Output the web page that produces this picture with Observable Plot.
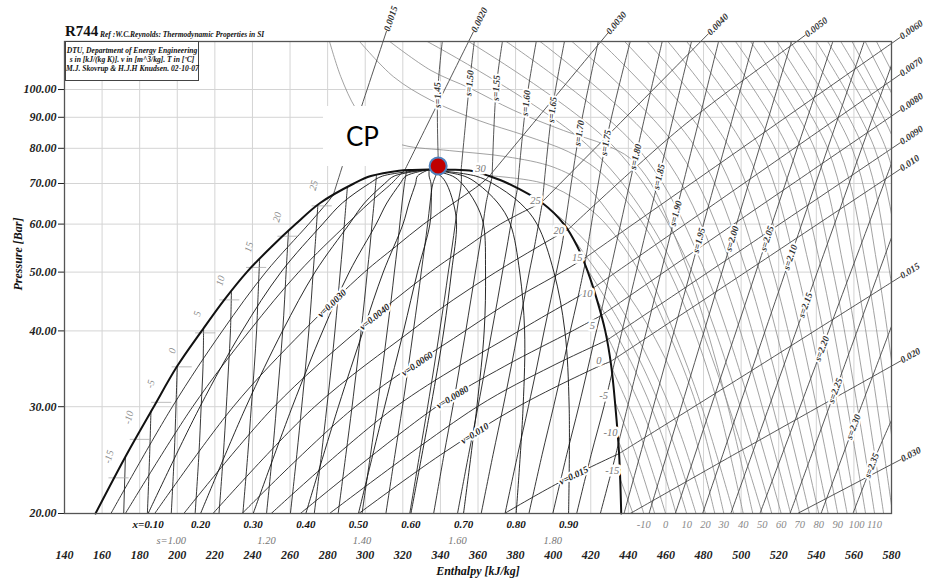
<!DOCTYPE html>
<html><head><meta charset="utf-8">
<script src="https://cdn.jsdelivr.net/npm/d3@7"></script>
<script src="https://cdn.jsdelivr.net/npm/@observablehq/plot@0.6"></script>
<style>
html,body{margin:0;padding:0;background:#fff;}
#wrap{position:relative;width:932px;height:581px;overflow:hidden;}
.ov{position:absolute;font-family:'Liberation Serif',serif;color:#111;white-space:nowrap;}
</style></head><body>
<div id="wrap">
<div id="chart"></div>
<div class="ov" style="left:65px;top:23px;font-size:15px;font-weight:bold;">R744</div>
<div class="ov" style="left:100px;top:30px;font-size:7.5px;font-weight:bold;font-style:italic;">Ref :W.C.Reynolds: Thermodynamic Properties in SI</div>
<div class="ov" style="left:65px;top:41px;width:132px;height:34px;border:1px solid #444;background:#fff;text-align:center;font-size:7.6px;font-weight:bold;font-style:italic;line-height:9px;padding-top:4px;">DTU, Department of Energy Engineering<br>s in [kJ/(kg K)]. v in [m^3/kg]. T in [ºC]<br>M.J. Skovrup &amp; H.J.H Knudsen. 02-10-07</div>
<div class="ov" style="left:323px;top:106px;width:79px;height:60px;background:#fff;text-align:center;font-family:Lato,'Open Sans',sans-serif;font-size:26px;line-height:60px;color:#000;">CP</div>
</div>
<script>
// ---------- axis / grid values ----------
const enthalpyTicks = [140,160,180,200,220,240,260,280,300,320,340,360,380,400,420,440,460,480,500,520,540,560,580];
const pressureTicks = [20,30,40,50,60,70,80,90,100];

// ---------- saturation dome [h kJ/kg, P bar] ----------
const satLiquid = [[156.5,20],[173,25],[187.5,30],[200,35],[213,40],[225,45],[237,50],[250,55],[263,60],[276,65],[294,70],[303,72],[318,73.5],[325,73.7],[334,73.8]];
const satVapor = [[334,73.8],[345,73.75],[357,73.4],[366,72],[376,70],[394.2,65],[405.7,60],[413,55],[418.5,50],[423.3,45],[427.7,40],[430.9,35],[433.1,30],[435.1,25],[436.2,20]];
const criticalPoint = {h:338.8, P:74.8};

// ---------- quality lines ----------
const qualityLabels = ["x=0.10","0.20","0.30","0.40","0.50","0.60","0.70","0.80","0.90"];
const qualityP = [20,30,40,50,60,65,70,72,73.8];
const qualityH = [
 [184.5,212.1,234.5,255.2,277.3,287.8,302.2,309.2,334],
 [212.4,236.6,256.0,273.3,291.5,299.6,310.4,315.4,334],
 [240.4,261.2,277.4,291.5,305.8,311.5,318.6,321.6,334],
 [268.4,285.7,298.9,309.6,320.1,323.3,326.8,327.8,334],
 [296.4,310.3,320.4,327.8,334.4,335.1,335.0,334.0,334],
 [324.3,334.9,341.8,345.9,348.6,346.9,343.2,340.2,334],
 [352.3,359.4,363.3,364.0,362.9,358.7,351.4,346.4,334],
 [380.3,384.0,384.8,382.2,377.2,370.6,359.6,352.6,334],
 [408.2,408.5,406.2,400.4,391.4,382.4,367.8,358.8,334]
];

// ---------- isentropes ----------
const isentropeTwoPhase = [
 {s:0.90, pts:[[171.5,20],[172.4,24.8]]},
 {s:0.95, pts:[[184.1,20],[185.3,25],[186,29.5]]},
 {s:1.00, pts:[[196.8,20],[198.4,25],[199.3,30],[200,35]]},
 {s:1.05, pts:[[209.5,20],[211.5,25],[212.7,30],[213.7,35],[214,40.2]]},
 {s:1.10, pts:[[222.2,20],[224.5,25],[226.1,30],[227.3,35],[228.3,40],[228.8,46.4]]},
 {s:1.15, pts:[[234.9,20],[237.5,25],[239.4,30],[241,35],[242.2,40],[242.9,45],[243.8,52.5]]},
 {s:1.20, pts:[[247.5,20],[250.6,25],[252.8,30],[254.6,35],[256.1,40],[257.1,45],[257.9,50],[259.2,58.6]]},
 {s:1.25, pts:[[260.2,20],[263.6,25],[266.2,30],[268.3,35],[270,40],[271.3,45],[272.3,50],[273.3,55],[274.8,64.5]]},
 {s:1.30, pts:[[272.9,20],[276.7,25],[279.6,30],[282,35],[283.9,40],[285.4,45],[286.7,50],[287.9,55],[288.9,60],[290.5,69]]},
 {s:1.35, pts:[[285.6,20],[289.7,25],[293,30],[295.6,35],[297.8,40],[299.6,45],[301.1,50],[302.5,55],[303.6,60],[304.7,65],[306,72.3]]},
 {s:1.40, pts:[[298.3,20],[302.8,25],[306.4,30],[309.3,35],[311.7,40],[313.8,45],[315.5,50],[317.1,55],[318.4,60],[319.6,65],[320.9,70],[322,73.5]]},
 {s:1.45, pts:[[311,20],[315.8,25],[319.8,30],[323,35],[325.6,40],[327.9,45],[329.8,50],[331.6,55],[333.2,60],[334.5,65],[336,70],[339,73.8]]},
 {s:1.50, pts:[[323.7,20],[328.9,25],[333.2,30],[336.7,35],[339.6,40],[342.1,45],[344.2,50],[346.2,55],[347.9,60],[349.4,65],[351.1,70],[351,73.65]]},
 {s:1.55, pts:[[336.4,20],[341.9,25],[346.6,30],[350.3,35],[353.5,40],[356.2,45],[358.6,50],[360.8,55],[362.7,60],[364.3,65],[367.5,71.7]]},
 {s:1.60, pts:[[349.1,20],[355,25],[360,30],[364,35],[367.4,40],[370.4,45],[373,50],[375.4,55],[377.5,60],[381,68.7]]},
 {s:1.65, pts:[[361.7,20],[368,25],[373.4,30],[377.7,35],[381.3,40],[384.5,45],[387.3,50],[390,55],[394.2,65]]},
 {s:1.70, pts:[[374.4,20],[381.1,25],[386.8,30],[391.4,35],[395.2,40],[398.7,45],[401.7,50],[404.5,55],[406.3,59.6]]},
 {s:1.75, pts:[[387.1,20],[394.1,25],[400.2,30],[405.1,35],[409.1,40],[412.9,45],[416.9,51.5]]},
 {s:1.80, pts:[[399.8,20],[407.2,25],[413.6,30],[418.7,35],[423,40],[425.4,42.8]]},
 {s:1.85, pts:[[412.5,20],[420.2,25],[427,30],[431.3,34.1]]},
 {s:1.90, pts:[[425.1,20],[433.3,25],[434.7,26.1]]}
];
const isentropeVapor = [
 {s:1.45, pts:[[339,73.8],[338.5,98],[341,120]]},
 {s:1.50, pts:[[351,73.65],[355.5,102.5],[358,120]]},
 {s:1.55, pts:[[367.5,71.7],[369.7,100.6],[373,120]]},
 {s:1.60, pts:[[381,68.7],[385.6,95],[391,120]]},
 {s:1.65, pts:[[394.2,65],[399.5,92.6],[406,120]]},
 {s:1.70, pts:[[406.3,59.6],[413.9,84.8],[424,120]]},
 {s:1.75, pts:[[416.9,51.5],[428,81.7],[441,120]]},
 {s:1.80, pts:[[425.4,42.8],[443.9,77.5],[458,120]]},
 {s:1.85, pts:[[431.3,34.1],[456.3,71.8],[473.6,120]]},
 {s:1.90, pts:[[434.7,26.1],[465.2,62.5],[488,120]]},
 {s:1.95, pts:[[437.7,20],[477.6,56.4],[506.6,120]]},
 {s:2.00, pts:[[451,20],[495.2,56.8],[526.8,120]]},
 {s:2.05, pts:[[465,20],[513.8,56.8],[548.8,120]]},
 {s:2.10, pts:[[479.5,20],[526.2,52.9],[565.5,120]]},
 {s:2.15, pts:[[494.5,20],[534.2,44.1],[580,109.7]]},
 {s:2.20, pts:[[510,20],[543,37.4],[580,75.5]]},
 {s:2.25, pts:[[526,20],[550.1,31.9],[580,57]]},
 {s:2.30, pts:[[542.5,20],[559.8,27.8],[580,40.7]]},
 {s:2.35, pts:[[559.5,20],[569.5,24],[580,28.5]]}
];
const isentropeLabels = [
 {s:1.45,P:97.9},{s:1.50,P:102.5},{s:1.55,P:100.6},{s:1.60,P:95},{s:1.65,P:92.6},{s:1.70,P:84.8},
 {s:1.75,P:81.7},{s:1.80,P:77.5},{s:1.85,P:71.8},{s:1.90,P:62.5},{s:1.95,P:56.4},{s:2.00,P:56.8},
 {s:2.05,P:56.8},{s:2.10,P:52.9},{s:2.15,P:44.1},{s:2.20,P:37.4},{s:2.25,P:31.9},{s:2.30,P:27.8},{s:2.35,P:24}
];
const isentropeBottomLabels = [{s:1.00,text:"s=1.00"},{s:1.20,text:"1.20"},{s:1.40,text:"1.40"},{s:1.60,text:"1.60"},{s:1.80,text:"1.80"}];

// ---------- isochores ----------
const isochoreTwoPhase = [
 {v:"0.0015", pts:[[164.7,20],[197.4,30],[224,40],[247.1,50],[269.9,60],[279.6,65],[283,67]]},
 {v:"0.0020", pts:[[172.4,20],[208.2,30],[238.4,40],[264.6,50],[290.3,60],[302.1,65],[314,70],[317.8,72],[321,73.6]]},
 {v:"0.0030", pts:[[188,20],[229.8,30],[267.1,40],[299.6,50],[315.9,55],[331.1,60],[347,65],[361.7,70],[366,72]]},
 {v:"0.0040", pts:[[203.5,20],[251.5,30],[295.7,40],[334.6,50],[353.8,55],[371.9,60],[393.5,65]]},
 {v:"0.0050", pts:[[219,20],[273.1,30],[324.4,40],[346.8,45],[369.5,50],[391.7,55],[408,58.8]]},
 {v:"0.0060", pts:[[234.5,20],[294.7,30],[353.1,40],[378.6,45],[404.5,50],[415.5,52.4]]},
 {v:"0.0070", pts:[[250,20],[316.3,30],[381.8,40],[410.3,45],[421,47]]},
 {v:"0.0080", pts:[[265.5,20],[337.9,30],[374.3,35],[410.3,40],[425.5,42.4]]},
 {v:"0.0090", pts:[[281,20],[359.6,30],[399.4,35],[428.5,38.6]]},
 {v:"0.010",  pts:[[296.6,20],[340.2,25],[381.2,30],[424.6,35],[430.5,35.6]]},
 {v:"0.015",  pts:[[374.1,20],[403.3,22.5],[435,25.1]]}
];
const isochoreVapor = [
 {v:"0.0015", pts:[[283,67],[296,89.7],[309.5,120]]},
 {v:"0.0020", pts:[[321,73.6],[338,94],[355,120]]},
 {v:"0.0030", pts:[[366,72],[395.7,92.9],[425.4,120]]},
 {v:"0.0040", pts:[[393.5,65],[436,88.3],[478.5,120]]},
 {v:"0.0050", pts:[[408,58.8],[468.8,86.9],[529.6,120]]},
 {v:"0.0060", pts:[[415.5,52.4],[497.7,79],[580,119.1]]},
 {v:"0.0070", pts:[[421,47],[500.5,69.7],[580,103.5]]},
 {v:"0.0080", pts:[[425.5,42.4],[502.8,62],[580,90.4]]},
 {v:"0.0090", pts:[[428.5,38.6],[504.3,55.5],[580,79.9]]},
 {v:"0.010",  pts:[[430.5,35.6],[505.3,50.7],[580,72.3]]},
 {v:"0.015",  pts:[[435,25.1],[507.5,34.7],[580,48.1]]},
 {v:"0.020",  pts:[[441,20],[510.5,26.5],[580,35]]},
 {v:"0.030",  pts:[[530,20],[580,24.1]]}
];
const isochoreInnerLabels = [{v:"0.0030",P:44.4},{v:"0.0040",P:42.2},{v:"0.0060",P:35.3},{v:"0.0080",P:31.1},{v:"0.010",P:27.1},{v:"0.015",P:23.1}];

// ---------- isotherms (°C) ----------
const isotherms = [
 {T:-15, pts:[[435.4,22.9],[442.5,20]]},
 {T:-10, pts:[[434.4,26.5],[441.5,23.2],[448.2,20]]},
 {T:-5,  pts:[[432.9,30.5],[443.5,25.3],[454,20]]},
 {T:0,   pts:[[430.9,34.9],[445.3,27.5],[459.8,20]]},
 {T:5,   pts:[[427.9,39.7],[446.5,30],[456,25],[465.4,20]]},
 {T:10,  pts:[[423.3,45],[442.5,35],[456.8,27.5],[471,20]]},
 {T:15,  pts:[[417.5,50.9],[438,40],[457,30],[476,20]]},
 {T:20,  pts:[[409.7,57.3],[433.5,45],[452.5,35],[467.8,27],[481,20]]},
 {T:25,  pts:[[396,64.3],[413,58],[431,50],[452,40],[470.5,30],[486,20]]},
 {T:30,  pts:[[366,72.1],[395,70],[415,65],[428,60],[446,50],[461,40],[476.5,30],[490.8,20]]},
 {T:35,  pts:[[281,120],[287,105],[295,93],[305,85],[320,81],[345,79.3],[375,77.5],[400,74.5],[416,70],[434,60],[450,50],[464,40],[479,30],[496,20]]},
 {T:40,  pts:[[297,120],[315,105],[335,96],[360,89],[385,84],[408,79],[423,74],[433,69],[448,60],[462,50],[475,40],[488,30],[501.1,20]]},
 {T:45,  pts:[[313,120],[335,107.5],[356,100.4],[379,92.4],[405.5,85.6],[428,81],[441,77],[452,70],[462,60],[472,50],[482,40],[493,30],[506.2,20]]},
 {T:50,  pts:[[333,120],[420,80],[466,50],[511.2,20]]},
 {T:55,  pts:[[355,120],[433,80],[474,50],[516.3,20]]},
 {T:60,  pts:[[375,120],[445,80],[481,50],[521.3,20]]},
 {T:65,  pts:[[393,120],[456,80],[489,50],[526.3,20]]},
 {T:70,  pts:[[410,120],[466,80],[496,50],[531.2,20]]},
 {T:75,  pts:[[425,120],[476,80],[503,50],[536.3,20]]},
 {T:80,  pts:[[438,120],[485,80],[510,50],[541.3,20]]},
 {T:85,  pts:[[450,120],[494,80],[517,50],[546.3,20]]},
 {T:90,  pts:[[461,120],[502,80],[524,50],[551.4,20]]},
 {T:95,  pts:[[471,120],[510,80],[530,50],[556.4,20]]},
 {T:100, pts:[[480,120],[518,80],[537,50],[561.4,20]]},
 {T:105, pts:[[489,120],[525,80],[543,50],[566.2,20]]},
 {T:110, pts:[[497,120],[532,80],[549,50],[571,20]]},
 {T:115, pts:[[505,120],[539,80],[555,50],[575.8,20]]},
 {T:120, pts:[[512,120],[546,80],[561,50],[580.6,20]]},
 {T:125, pts:[[519,120],[552,80],[567,50],[585.6,20]]},
 {T:130, pts:[[526,120],[559,80],[573,50],[590.5,20]]},
 {T:135, pts:[[533,120],[565,80],[579,50],[595.4,20]]},
 {T:140, pts:[[540,120],[571,80],[585,50],[600.3,20]]},
 {T:145, pts:[[546,120],[577,80],[591,50]]},
 {T:150, pts:[[553,120],[583,80],[597,50]]},
 {T:155, pts:[[559,120],[589,80]]},
 {T:160, pts:[[566,120],[595,80]]},
 {T:165, pts:[[572,120],[601,80]]}
];
const isothermBottomLabels = [-10,0,10,20,30,40,50,60,70,80,90,100,110];
const liquidTempLabels = [
 {T:"-15",h:163.6,P:24.8},{T:"-10",h:174.2,P:28.8},{T:"-5",h:185.8,P:32.7},{T:"0",h:197.3,P:37.1},
 {T:"5",h:210.6,P:42.7},{T:"10",h:223,P:48.4},{T:"15",h:238.1,P:55},{T:"20",h:253.2,P:61.6},{T:"25",h:272.6,P:69.5}
];
const liquidTicks = [
 {P:22.9,h1:163.4,h2:174.1},{P:26.5,h1:174.7,h2:185.4},{P:30.5,h1:186.1,h2:196.8},{P:34.9,h1:197,h2:207.7},
 {P:39.7,h1:209.5,h2:220.2},{P:45.0,h1:222.3,h2:233},{P:50.9,h1:236.6,h2:247.3},{P:57.3,h1:253.3,h2:264},{P:64.3,h1:271.5,h2:282.2}
];
const vaporTempLabels = [
 {T:"30",h:361.3,P:74.0},{T:"25",h:390.6,P:65.6},{T:"20",h:403,P:58.6},{T:"15",h:412.8,P:52.9},{T:"10",h:418.1,P:46.1},
 {T:"5",h:420.8,P:40.8},{T:"0",h:424.3,P:35.8},{T:"-5",h:426.9,P:31.3},{T:"-10",h:430.5,P:27.2},{T:"-15",h:431.4,P:23.5}
];

// ---------- helpers (mirror of the Plot scales, for label angles) ----------
const W = 932, H = 581, mL = 64, mR = 41, mT = 41, mB = 68;
const xS = d3.scaleLinear([140,580],[mL, W-mR]);
const yS = d3.scaleLog([20,120],[H-mB, mT]);
function norm(a){ while(a>60) a-=180; while(a<=-120) a+=180; return a; }
function at(pts, P){
  for(let i=0;i<pts.length-1;i++){
    const [h1,P1]=pts[i],[h2,P2]=pts[i+1];
    if(P1!==P2 && (P-P1)*(P-P2)<=0){
      const t=(Math.log(P)-Math.log(P1))/(Math.log(P2)-Math.log(P1));
      const a=Math.atan2(yS(P2)-yS(P1), xS(h2)-xS(h1))*180/Math.PI;
      return {h:h1+t*(h2-h1), P, angle:norm(a)};
    }
  }
  return null;
}
function edge(pts, gap){
  const [h1,P1]=pts[pts.length-2],[h2,P2]=pts[pts.length-1];
  const x1=xS(h1),y1=yS(P1),x2=xS(h2),y2=yS(P2);
  const L=Math.hypot(x2-x1,y2-y1), ux=(x2-x1)/L, uy=(y2-y1)/L;
  return {h0:h2,P0:P2,h:xS.invert(x2+ux*gap),P:yS.invert(y2+uy*gap),angle:Math.atan2(uy,ux)*180/Math.PI};
}
function rows(lines, fam){
  const out=[]; lines.forEach((ln,i)=>ln.pts.forEach(([h,P])=>out.push({id:fam+i,h,P}))); return out;
}

const domeRows = satLiquid.concat(satVapor.slice(1)).map(([h,P])=>({h,P}));
const qualityRows = qualityH.flatMap((hs,i)=>hs.map((h,j)=>({id:"q"+i,h,P:qualityP[j]})));
const qualityLabelRows = qualityH.map((hs,i)=>({h:hs[0],P:20,text:qualityLabels[i]}));
const sLabelRows = isentropeLabels.map(L=>{const ln=isentropeVapor.find(d=>d.s===L.s); const p=at(ln.pts,L.P); return p?{...p,text:"s="+L.s.toFixed(2)}:null;}).filter(d=>d);
const sBottomRows = isentropeBottomLabels.map(L=>{const ln=isentropeTwoPhase.find(d=>Math.abs(d.s-L.s)<1e-9); return {h:ln.pts[0][0],P:20,text:L.text};});
const vInnerRows = isochoreInnerLabels.map(L=>{const ln=isochoreTwoPhase.find(d=>d.v===L.v); const p=at(ln.pts,L.P); return p?{...p,text:"v="+L.v}:null;}).filter(d=>d);
const vEdgeRows = isochoreVapor.map(d=>({...edge(d.pts,11),text:d.v}));
const tBottomRows = isothermBottomLabels.map(T=>{const ln=isotherms.find(d=>d.T===T); return {h:ln.pts[ln.pts.length-1][0],P:20,text:String(T)};});

const serif = "'Liberation Serif', 'Times New Roman', serif";
const lab = {fontFamily:serif, fontStyle:"italic", fontWeight:"bold"};

const chart = Plot.plot({
  width: W, height: H, marginLeft: mL, marginRight: mR, marginTop: mT, marginBottom: mB,
  style: {fontFamily: serif, fontSize: "12px", fontStyle: "italic", fontWeight: "bold", color: "#222", background: "transparent", overflow: "visible"},
  x: {domain: [140,580], ticks: enthalpyTicks, tickSize: 0, tickPadding: 37, tickFormat: d => String(d), label: null},
  y: {type: "log", domain: [20,120], ticks: pressureTicks, tickFormat: d => d.toFixed(2), tickSize: 6, tickPadding: 2, label: null},
  marks: [
    Plot.ruleX(enthalpyTicks, {stroke: "#d4d4d4", strokeWidth: 1}),
    Plot.ruleY(pressureTicks, {stroke: "#d4d4d4", strokeWidth: 1}),
    Plot.line(rows(isotherms,"t"), {x:"h", y:"P", z:"id", curve:"catmull-rom", stroke:"#8a8a8a", strokeWidth:0.8, clip:true}),
    Plot.line(rows(isochoreVapor,"cv"), {x:"h", y:"P", z:"id", curve:"catmull-rom", stroke:"#444", strokeWidth:0.9, clip:true}),
    Plot.line(rows(isentropeVapor,"sv"), {x:"h", y:"P", z:"id", curve:"catmull-rom", stroke:"#444", strokeWidth:0.9, clip:true}),
    Plot.line(rows(isochoreTwoPhase,"c2"), {x:"h", y:"P", z:"id", curve:"catmull-rom", stroke:"#222", strokeWidth:0.9, clip:true}),
    Plot.line(rows(isentropeTwoPhase,"s2"), {x:"h", y:"P", z:"id", curve:"catmull-rom", stroke:"#222", strokeWidth:0.9, clip:true}),
    Plot.line(qualityRows, {x:"h", y:"P", z:"id", curve:"catmull-rom", stroke:"#111", strokeWidth:0.9, clip:true}),
    Plot.link(liquidTicks, {x1:"h1", x2:"h2", y1:"P", y2:"P", stroke:"#aaa", strokeWidth:0.8}),
    Plot.line(domeRows, {x:"h", y:"P", curve:"catmull-rom", stroke:"#111", strokeWidth:2}),
    Plot.text(sLabelRows, {x:"h", y:"P", text:"text", rotate:"angle", fontSize:9.5, ...lab, fill:"white", stroke:"white", strokeWidth:4}),
    Plot.text(sLabelRows, {x:"h", y:"P", text:"text", rotate:"angle", fontSize:9.5, ...lab, fill:"#333"}),
    Plot.text(vInnerRows, {x:"h", y:"P", text:"text", rotate:"angle", fontSize:9.5, ...lab, fill:"white", stroke:"white", strokeWidth:4}),
    Plot.text(vInnerRows, {x:"h", y:"P", text:"text", rotate:"angle", fontSize:9.5, ...lab, fill:"#222"}),
    Plot.text(vaporTempLabels, {x:"h", y:"P", text:"T", fontSize:10.5, fontFamily:serif, fontStyle:"italic", fontWeight:"normal", fill:"white", stroke:"white", strokeWidth:5}),
    Plot.text(vaporTempLabels, {x:"h", y:"P", text:"T", fontSize:10.5, fontFamily:serif, fontStyle:"italic", fontWeight:"normal", fill:"#777"}),
    Plot.text(liquidTempLabels, {x:"h", y:"P", text:"T", rotate:-75, fontSize:10, fontFamily:serif, fontStyle:"italic", fontWeight:"normal", fill:"#888"}),
    Plot.link(vEdgeRows, {x1:"h0", y1:"P0", x2:"h", y2:"P", stroke:"#444", strokeWidth:0.9}),
    Plot.text(vEdgeRows, {x:"h", y:"P", text:"text", rotate:"angle", textAnchor:"start", fontSize:9.5, ...lab, fill:"#333"}),
    Plot.text(qualityLabelRows, {x:"h", y:"P", text:"text", dy:11, fontSize:11, ...lab, fill:"#111"}),
    Plot.text(sBottomRows, {x:"h", y:"P", text:"text", dy:27, fontSize:10.5, fontFamily:serif, fontStyle:"italic", fontWeight:"normal", fill:"#777"}),
    Plot.text(tBottomRows, {x:"h", y:"P", text:"text", dy:11, fontSize:10.5, fontFamily:serif, fontStyle:"italic", fontWeight:"normal", fill:"#888"}),
    Plot.text(["Enthalpy [kJ/kg]"], {frameAnchor:"bottom", dy:61, text:d=>d, fontSize:12, ...lab, fill:"#111"}),
    Plot.text(["Pressure [Bar]"], {frameAnchor:"left", dx:-46, dy:13, rotate:-90, text:d=>d, fontSize:12, ...lab, fill:"#111"}),
    Plot.frame({stroke:"#555", strokeWidth:1.3}),
    Plot.dot([criticalPoint], {x:"h", y:"P", r:8.5, fill:"#c00000", stroke:"#4f81bd", strokeWidth:2})
  ]
});
document.getElementById("chart").appendChild(chart);
</script>
</body></html>
